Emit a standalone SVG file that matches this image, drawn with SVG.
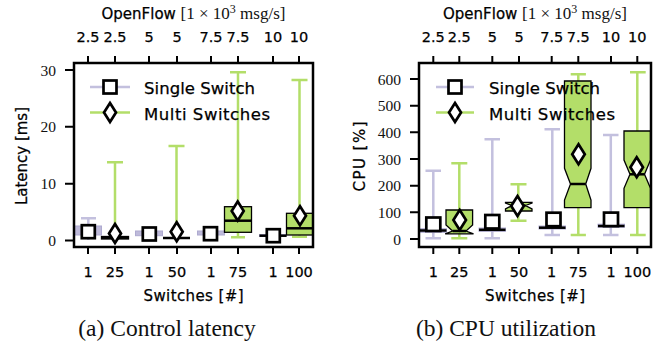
<svg xmlns="http://www.w3.org/2000/svg" width="659" height="349" viewBox="0 0 659 349">
<style>
.frame{fill:none;stroke:#000;stroke-width:2.5}
.tick{stroke:#000;stroke-width:2}
.sans{font-family:"DejaVu Sans",sans-serif;fill:#000;stroke:#000;stroke-width:0.25}
.serif{font-family:"Liberation Serif","Times New Roman",serif;fill:#111}
.tl{font-size:14.5px;text-anchor:middle}
.yl{font-size:15.5px;text-anchor:end}
.al{font-size:15px;text-anchor:middle}
.lg{font-size:16.5px}
.cap{font-size:23.5px;text-anchor:middle}
.pw{stroke:#c3c0de;stroke-width:2.5;fill:none}
.gw{stroke:#b3de69;stroke-width:2.5;fill:none}
.pb{fill:#bebada;stroke:#aeaad0;stroke-width:1}
.gb{fill:#b3de69;stroke:#000;stroke-width:1.3}
.med{stroke:#000;stroke-width:2.5}
.sq{fill:#fff;stroke:#000;stroke-width:2.7}
.dm{fill:#fff;stroke:#000;stroke-width:2.7}
</style>
<defs>
<clipPath id="cl"><rect x="74" y="63" width="239" height="184"/></clipPath>
<clipPath id="cr"><rect x="419" y="63" width="232" height="184"/></clipPath>
</defs>

<g id="plot-a">
<g id="plot-a-data" clip-path="url(#cl)">
<g id="a-s1">
<path class="pw" d="M88.3 226V218.3M81 218.3H96M88.3 235V240"/>
<rect class="pb" x="74.5" y="226" width="27" height="9"/>
</g>
<g id="a-m25">
<path class="gw" d="M115 238V162.3M107 162.3H123"/>
<rect class="gb" x="101.5" y="236.5" width="27" height="2.5"/>
<path class="med" d="M101.5 237.7H128.5"/>
</g>
<g id="a-s2">
<rect class="pb" x="135.5" y="231" width="27" height="4.7"/>
</g>
<g id="a-m50">
<path class="gw" d="M176.5 238V146M168.5 146H184.5"/>
<path class="med" d="M163 238H190"/>
</g>
<g id="a-s3">
<rect class="pb" x="197.5" y="231" width="27" height="4"/>
</g>
<g id="a-m75">
<path class="gw" d="M238 206.7V72.3M230 72.3H246M238 232.3V237.3M231 237.3H245"/>
<rect class="gb" x="224.5" y="206.7" width="27" height="25.6"/>
<path class="med" d="M224.5 220.7H251.5"/>
</g>
<g id="a-s4">
<rect class="pb" x="259.5" y="234.5" width="27" height="2"/>
<path class="med" d="M259.5 235.7H286.5"/>
</g>
<g id="a-m100">
<path class="gw" d="M299.5 213.3V80M291.5 80H307.5M299.5 235V236.7M292 236.7H307"/>
<rect class="gb" x="286.5" y="213.3" width="27" height="21.7"/>
<path class="med" d="M286.5 228.3H313.5"/>
</g>
<rect class="sq" x="81.8" y="225.2" width="13" height="13"/>
<path class="dm" d="M115 224L121 233.5L115 243L109 233.5Z"/>
<rect class="sq" x="142.8" y="227.5" width="13" height="13"/>
<path class="dm" d="M176.7 222.2L182.7 231.7L176.7 241.2L170.7 231.7Z"/>
<rect class="sq" x="204" y="227.2" width="13" height="13"/>
<path class="dm" d="M237.7 201.5L243.7 211L237.7 220.5L231.7 211Z"/>
<rect class="sq" x="266.8" y="229.2" width="13" height="13"/>
<path class="dm" d="M300 206.2L306 215.7L300 225.2L294 215.7Z"/>
</g>
<g id="legend-a">
<path class="pw" d="M90 87H130"/>
<rect class="sq" x="103.5" y="80.5" width="13" height="13"/>
<text class="sans lg" x="144" y="94" textLength="111">Single Switch</text>
<path class="gw" d="M90 112.5H130"/>
<path class="dm" d="M110 103L116 112.5L110 122L104 112.5Z"/>
<text class="sans lg" x="144" y="119.5" textLength="126">Multi Switches</text>
</g>
<g id="axes-a">
<rect class="frame" x="74" y="63" width="239" height="184"/>
<path class="tick" d="M88 63V56M115 63V56M149 63V56M177 63V56M211 63V56M238 63V56M273 63V56M299 63V56"/>
<path class="tick" d="M88 247V254M115 247V254M149 247V254M177 247V254M211 247V254M238 247V254M273 247V254M299 247V254"/>
<path class="tick" d="M74 70H65M74 126.8H65M74 183.7H65M74 240.5H65"/>
<g class="serif yl">
<text x="56" y="75.5">30</text>
<text x="56" y="132.3">20</text>
<text x="56" y="189.2">10</text>
<text x="56" y="246">0</text>
</g>
<g class="sans tl">
<text x="88" y="42">2.5</text><text x="115" y="42">2.5</text>
<text x="149" y="42">5</text><text x="177" y="42">5</text>
<text x="211" y="42">7.5</text><text x="238" y="42">7.5</text>
<text x="273" y="42">10</text><text x="299" y="42">10</text>
<text x="88" y="276.5">1</text><text x="115" y="276.5">25</text>
<text x="149" y="276.5">1</text><text x="177" y="276.5">50</text>
<text x="211" y="276.5">1</text><text x="238" y="276.5">75</text>
<text x="273" y="276.5">1</text><text x="299" y="276.5">100</text>
</g>
<text class="sans al" x="193.5" y="301" textLength="100">Switches [#]</text>
<text class="sans al" transform="translate(26.5,156) rotate(-90)" textLength="98">Latency [ms]</text>
<text x="193.5" y="18.5" text-anchor="middle"><tspan class="sans" font-size="15">OpenFlow </tspan><tspan class="serif" font-size="17">[1 × 10</tspan><tspan class="serif" font-size="12" dy="-6">3</tspan><tspan class="serif" font-size="17" dy="6"> msg/s]</tspan></text>
</g>
</g>

<g id="plot-b">
<g id="plot-b-data" clip-path="url(#cr)">
<g id="b-s1">
<path class="pw" d="M433.3 238.3V170.7M425.5 170.7H441M425.5 238.3H441"/>
<rect class="pb" x="420" y="228.7" width="26.5" height="3.6"/>
<path class="med" d="M420 230.5H446.5" stroke-width="3.5"/>
</g>
<g id="b-m25">
<path class="gw" d="M459.3 238.3V163.3M451.3 163.3H467.3M451.3 238.3H467.3"/>
<path class="gb" d="M446 210H472.6V225L466 231L473.5 233.8H445.2L452.6 231L446 225Z"/>
<path class="med" d="M452.6 231H466"/>
</g>
<g id="b-s2">
<path class="pw" d="M492.3 238.3V139.3M484.5 139.3H500M484.5 238.3H500"/>
<rect class="pb" x="479" y="228" width="26.5" height="3.3"/>
<path class="med" d="M479 229.8H505.5" stroke-width="3.5"/>
</g>
<g id="b-m50">
<path class="gw" d="M518.3 211V220.7M510.5 220.7H526.5M518.3 202.3V184.3M510.5 184.3H526.5"/>
<path class="gb" d="M505.5 202.3H532V203L525.5 205.5L532 209V211H505.5V209L512 205.5L505.5 203Z"/>
<path class="med" d="M512 205.5H525.5"/>
</g>
<g id="b-s3">
<path class="pw" d="M552.3 235V129.3M544.5 129.3H560M544.5 235H560"/>
<rect class="pb" x="539" y="226" width="26.5" height="3"/>
<path class="med" d="M539 227.7H565.5" stroke-width="3.5"/>
</g>
<g id="b-m75">
<path class="gw" d="M578.3 207.7V235M570.7 235H585.9M578.3 81V74.3M570.7 74.3H585.9"/>
<path class="gb" d="M564.5 81H591V168.3L585.7 184L591 200V207.7H564.5V200L570.5 184L564.5 168.3Z"/>
<path class="med" d="M570.5 184H585.7"/>
</g>
<g id="b-s4">
<path class="pw" d="M610.8 235V135M603 135H618.5M603 235H618.5"/>
<rect class="pb" x="598" y="224.2" width="26.5" height="3"/>
<path class="med" d="M598 226H624.5" stroke-width="3.5"/>
</g>
<g id="b-m100">
<path class="gw" d="M637.3 207.7V235M630 235H645.7M637.3 131V72.3M630 72.3H645.7"/>
<path class="gb" d="M624 131H650.5V160L644.5 174.3L650.5 188.3V207.7H624V188.3L630 174.3L624 160Z"/>
<path class="med" d="M630 174.3H644.5"/>
</g>
<rect class="sq" x="426.3" y="217.5" width="14" height="13.5"/>
<path class="dm" d="M459.7 210L466 220L459.7 230L453.4 220Z"/>
<rect class="sq" x="485.3" y="215" width="14" height="13.5"/>
<path class="dm" d="M517.5 196L523.8 206L517.5 216L511.2 206Z"/>
<rect class="sq" x="546.5" y="212.7" width="14" height="13.5"/>
<path class="dm" d="M578.5 144.3L584.8 154.3L578.5 164.3L572.2 154.3Z"/>
<rect class="sq" x="604" y="212.6" width="14" height="13.5"/>
<path class="dm" d="M636.7 157.3L643 167.3L636.7 177.3L630.4 167.3Z"/>
</g>
<g id="legend-b">
<path class="pw" d="M436 87H474"/>
<rect class="sq" x="448.5" y="80.5" width="13" height="13"/>
<text class="sans lg" x="489" y="94" textLength="111">Single Switch</text>
<path class="gw" d="M436 112.5H474"/>
<path class="dm" d="M455 103L461 112.5L455 122L449 112.5Z"/>
<text class="sans lg" x="489" y="119.5" textLength="126">Multi Switches</text>
</g>
<g id="axes-b">
<rect class="frame" x="419" y="63" width="232" height="184"/>
<path class="tick" d="M433.3 63V56M459.3 63V56M492.3 63V56M519 63V56M551.7 63V56M578.3 63V56M611 63V56M637.3 63V56"/>
<path class="tick" d="M433.3 247V254M459.3 247V254M492.3 247V254M519 247V254M551.7 247V254M578.3 247V254M611 247V254M637.3 247V254"/>
<path class="tick" d="M419 79H410M419 105.7H410M419 132.3H410M419 159H410M419 185.7H410M419 212.3H410M419 239H410"/>
<g class="serif yl">
<text x="401" y="84.5">600</text>
<text x="401" y="111.2">500</text>
<text x="401" y="137.8">400</text>
<text x="401" y="164.5">300</text>
<text x="401" y="191.2">200</text>
<text x="401" y="217.8">100</text>
<text x="401" y="244.5">0</text>
</g>
<g class="sans tl">
<text x="433.3" y="42">2.5</text><text x="459.3" y="42">2.5</text>
<text x="492.3" y="42">5</text><text x="519" y="42">5</text>
<text x="551.7" y="42">7.5</text><text x="578.3" y="42">7.5</text>
<text x="611" y="42">10</text><text x="637.3" y="42">10</text>
<text x="433.3" y="276.5">1</text><text x="459.3" y="276.5">25</text>
<text x="492.3" y="276.5">1</text><text x="519" y="276.5">50</text>
<text x="551.7" y="276.5">1</text><text x="578.3" y="276.5">75</text>
<text x="611" y="276.5">1</text><text x="637.3" y="276.5">100</text>
</g>
<text class="sans al" x="535" y="301" textLength="100">Switches [#]</text>
<text class="sans al" font-size="16" transform="translate(364.5,156.5) rotate(-90)" textLength="70">CPU [%]</text>
<text x="535" y="18.5" text-anchor="middle"><tspan class="sans" font-size="15">OpenFlow </tspan><tspan class="serif" font-size="17">[1 × 10</tspan><tspan class="serif" font-size="12" dy="-6">3</tspan><tspan class="serif" font-size="17" dy="6"> msg/s]</tspan></text>
</g>
</g>

<g id="captions">
<text class="serif cap" x="167" y="336">(a) Control latency</text>
<text class="serif cap" x="506" y="336">(b) CPU utilization</text>
</g>
</svg>
